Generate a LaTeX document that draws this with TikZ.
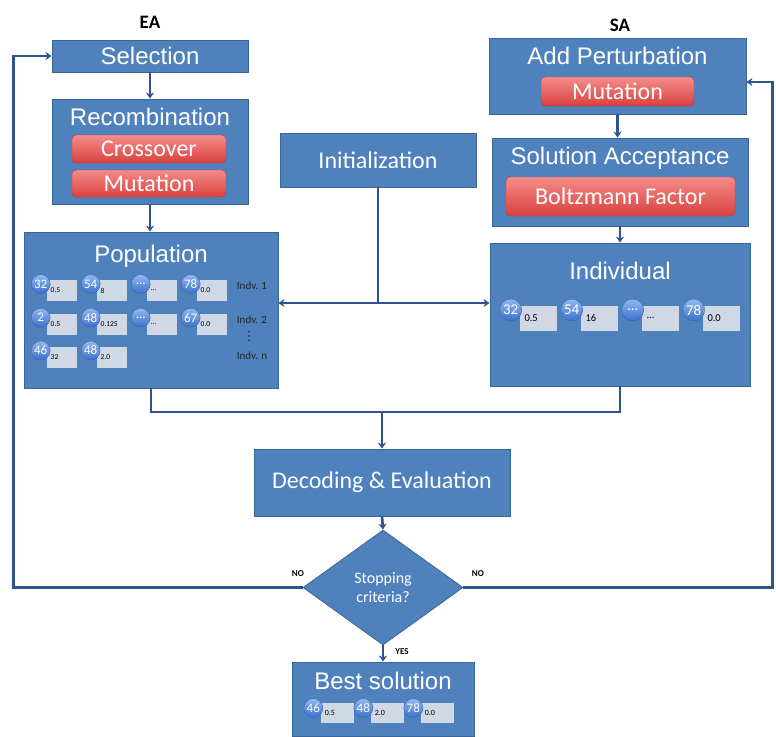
\documentclass[tikz,border=0pt]{standalone}
\usepackage{fontspec}
\setmainfont{Liberation Sans}
\newfontfamily\cali{Carlito}
\newfontfamily\dejavu{DejaVu Sans}
\usetikzlibrary{positioning,arrows.meta,shapes.geometric}
\definecolor{boxblue}{HTML}{4F81BD}
\definecolor{boxedge}{HTML}{3A6597}
\definecolor{linkblue}{HTML}{2F5391}
\definecolor{valgray}{HTML}{D0D7E5}
\definecolor{redtop}{HTML}{F58C8A}
\definecolor{redbot}{HTML}{D8413F}
\definecolor{redline}{HTML}{B83A36}
\definecolor{balltop}{HTML}{92B8F2}
\definecolor{ballbot}{HTML}{3C70CC}
\definecolor{balledge}{HTML}{3563B2}

\begin{document}
\begin{tikzpicture}[
  x=1pt, y=-1pt,
  panel/.style={draw=boxedge, fill=boxblue, line width=0.8pt, inner sep=0pt, text=white},
  ttl/.style={text=white, inner sep=0pt, font=\fontsize{24}{26}\selectfont},
  cttl/.style={text=white, inner sep=0pt, font=\cali\fontsize{24}{26}\selectfont},
  opbox/.style={draw=redline, rounded corners=4pt, top color=redtop, bottom color=redbot, text=white, inner sep=0pt, font=\cali\fontsize{24}{26}\selectfont},
  val/.style={fill=valgray, inner xsep=4pt, inner ysep=0pt, text width=22.6pt, align=left, minimum height=21pt, font=\cali\fontsize{7.5}{8}\selectfont},
  bigval/.style={val, inner xsep=5pt, text width=27pt, minimum height=25pt, font=\cali\fontsize{10.5}{11}\selectfont},
  bestval/.style={val, inner xsep=4pt, text width=25pt, minimum height=20pt, font=\cali\fontsize{8}{9}\selectfont},
  gene/.style={circle, draw=balledge, top color=balltop, bottom color=ballbot, minimum size=19pt, inner sep=0pt, text=white, font=\cali\fontsize{13}{13}\selectfont},
  biggene/.style={gene, minimum size=22pt, font=\cali\fontsize{15}{15}\selectfont},
  tag/.style={text=black!85, inner sep=0pt, font=\cali\fontsize{11}{12}\selectfont},
  flag/.style={inner sep=0pt, font=\cali\bfseries\fontsize{9}{10}\selectfont},
  head/.style={inner sep=0pt, font=\cali\bfseries\fontsize{19}{20}\selectfont},
  link/.style={draw=linkblue, line width=2.6pt},
  arrow/.style={link, -{Stealth[length=6pt, width=8pt]}}
]
\useasboundingbox (0,0) rectangle (776,736);

% EA side
\node[head] (ea) at (150,22) {EA};
\node[panel, minimum width=196pt, minimum height=32pt, font=\fontsize{24}{26}\selectfont] (sel) at (150,56) {Selection};
\node[panel, minimum width=196pt, minimum height=105pt] (rec) at (150,151.5) {};
\node[ttl, anchor=north, below=9pt of rec.north] (rect) {Recombination};
\node[opbox, minimum width=154pt, minimum height=28pt] (cross) at (149,149) {Crossover};
\node[opbox, minimum width=154pt, minimum height=27pt] (mutea) at (149,183.5) {Mutation};
\node[panel, minimum width=254pt, minimum height=156pt] (pop) at (151,310) {};
\node[ttl, below=13pt of pop.north] (popt) {Population};

% population genes
\node[val] (v11) at (62,290.5) {0.5}; \node[gene] (g11) at (40.7,284) {32};
\node[val] (v12) at (112,290.5) {8}; \node[gene] (g12) at (90.7,284) {54};
\node[val] (v13) at (162,290.5) {...}; \node[gene] (g13) at (140.7,284) {...};
\node[val] (v14) at (212,290.5) {0.0}; \node[gene] (g14) at (190.7,284) {78};
\node[val] (v21) at (62,324) {0.5}; \node[gene] (g21) at (40.7,317.7) {2};
\node[val] (v22) at (112,324) {0.125}; \node[gene] (g22) at (90.7,317.7) {48};
\node[val] (v23) at (162,324) {...}; \node[gene] (g23) at (140.7,317.7) {...};
\node[val] (v24) at (212,324) {0.0}; \node[gene] (g24) at (190.7,317.7) {67};
\node[val] (v31) at (62,357) {32}; \node[gene] (g31) at (40.7,350.5) {46};
\node[val] (v32) at (112,357) {2.0}; \node[gene] (g32) at (90.7,350.5) {48};
\node[tag] (ind1) at (252,286) {Indv. 1};
\node[tag] (ind2) at (252,320) {Indv. 2};
\node[tag, font=\dejavu\fontsize{13}{13}\selectfont] (indd) at (249,336) {⋮};
\node[tag] (indn) at (252,356) {Indv. n};

% middle
\node[panel, minimum width=196pt, minimum height=54pt] (init) at (378,160) {};
\node[cttl] (initt) at (init) {Initialization};
\node[panel, minimum width=256pt, minimum height=67pt] (dec) at (382,482.5) {};
\node[cttl] (dect) at (dec) {Decoding \& Evaluation};
\node[diamond, aspect=1.39, draw=boxedge, fill=boxblue, line width=0.8pt, minimum width=160pt, minimum height=115pt, inner sep=0pt] (stop) at (383,587.5) {};
\node[align=center, text=white, font=\cali\fontsize{16}{19}\selectfont] (stopt) at (stop) {Stopping\\criteria?};
\node[panel, minimum width=182pt, minimum height=74pt] (best) at (383,699) {};
\node[ttl, below=10pt of best.north] (bestt) {Best solution};
\node[bestval] (b1) at (337.3,713) {0.5}; \node[gene] (h1) at (313.3,708) {46};
\node[bestval] (b2) at (387.3,713) {2.0}; \node[gene] (h2) at (363.3,708) {48};
\node[bestval] (b3) at (437.3,713) {0.0}; \node[gene] (h3) at (413.3,708) {78};

% SA side
\node[head] (sa) at (620,25) {SA};
\node[panel, minimum width=257pt, minimum height=76pt] (add) at (617.5,76) {};
\node[ttl, below=9pt of add.north] (addt) {Add Perturbation};
\node[opbox, minimum width=153pt, minimum height=29pt] (mutsa) at (617.5,91.5) {Mutation};
\node[panel, minimum width=256pt, minimum height=88pt] (acc) at (620,182) {};
\node[ttl, below=9pt of acc.north] (acct) {Solution Acceptance};
\node[opbox, minimum width=229pt, minimum height=39pt] (boltz) at (620.5,196.5) {Boltzmann Factor};
\node[panel, minimum width=260pt, minimum height=143pt] (ind) at (620,314.5) {};
\node[ttl, below=19pt of ind.north] (indt) {Individual};
\node[bigval] (s1) at (538,318) {0.5}; \node[biggene] (t1) at (510.7,310) {32};
\node[bigval] (s2) at (599,318) {16}; \node[biggene] (t2) at (571.7,310) {54};
\node[bigval] (s3) at (660,318) {...}; \node[biggene] (t3) at (632.7,310) {...};
\node[bigval] (s4) at (721,318) {0.0}; \node[biggene] (t4) at (693.7,310) {78};

% connectors
\coordinate (split) at (378,303);
\coordinate (join) at (382,412);
\draw[arrow] (sel.south) -- (rec.north);
\draw[arrow] (rec.south) -- (rec.south |- pop.north);
\draw[arrow] (add.south) -- (add.south |- acc.north);
\draw[arrow] (acc.south) -- (acc.south |- ind.north);
\draw[link] (init.south) -- (split);
\draw[arrow] (split) -- (split -| pop.east);
\draw[arrow] (split) -- (split -| ind.west);
\draw[link] (pop.south) |- (join) -| (ind.south);
\draw[arrow] (join) -- (dec.north);
\draw[arrow] (dec.south) -- (stop.north);
\draw[arrow] (stop.west) -- ++(-289,0) |- (sel.west);
\draw[arrow] (stop.east) -- ++(309,0) |- ([yshift=-6pt]add.east);
\draw[arrow] (stop.south) -- (best.north);
\node[flag] (nol) at (298,574) {NO};
\node[flag] (nor) at (478,574) {NO};
\node[flag] (yes) at (402,652) {YES};
\end{tikzpicture}
\end{document}
